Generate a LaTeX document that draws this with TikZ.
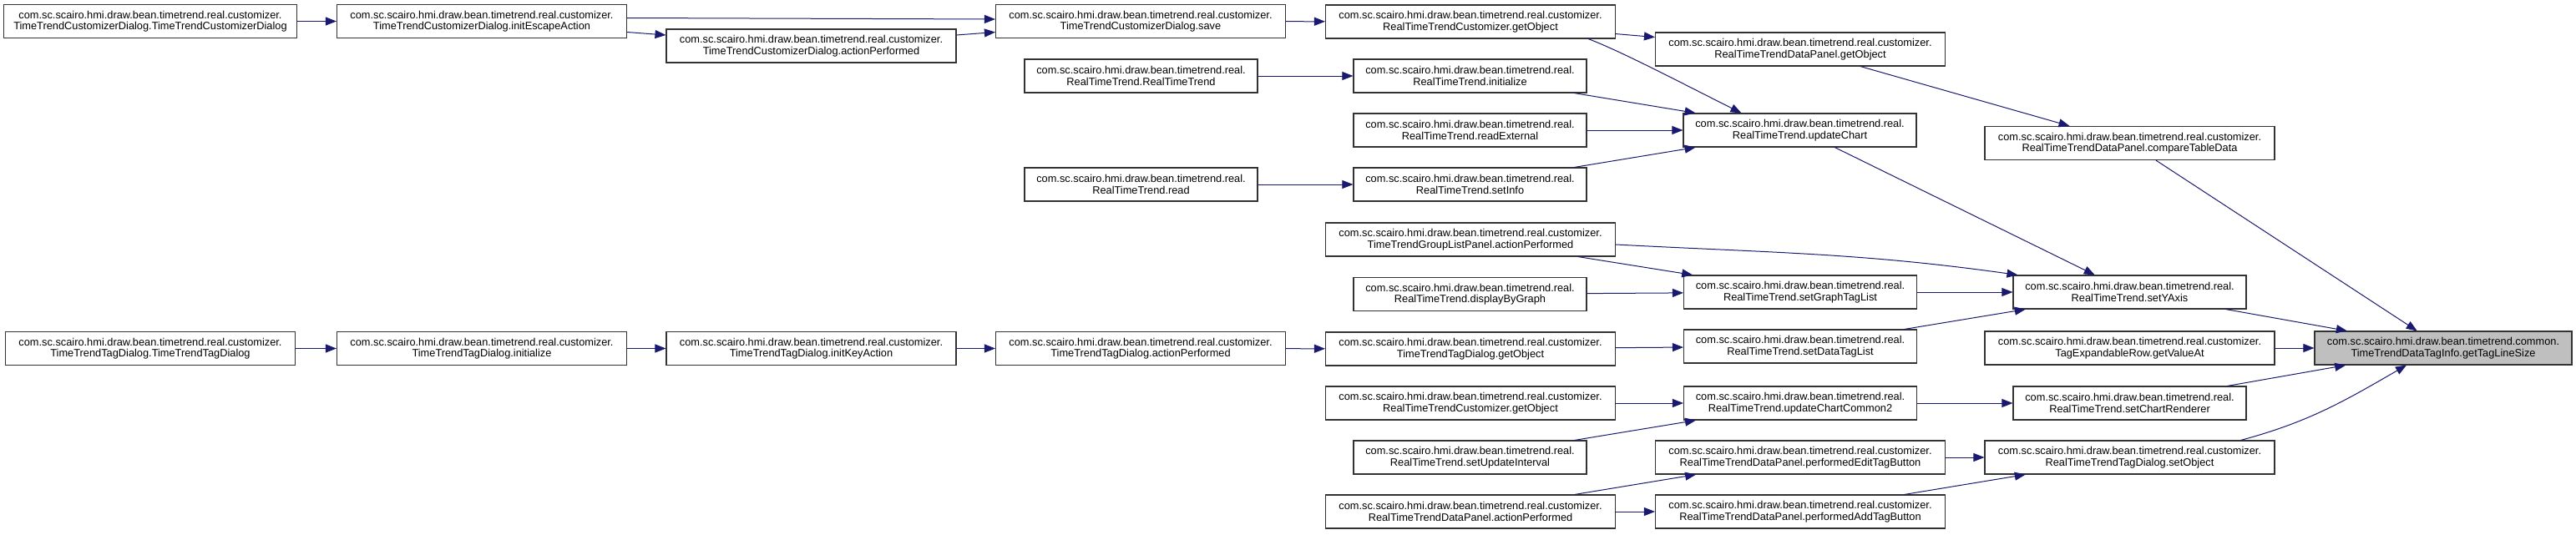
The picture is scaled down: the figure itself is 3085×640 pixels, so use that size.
\documentclass[tikz,border=0pt]{standalone}
\usepackage{fontspec}
\setmainfont{Liberation Sans}
\usetikzlibrary{arrows.meta}
\definecolor{edgeblue}{HTML}{191970}
\definecolor{hilite}{HTML}{BFBFBF}
\tikzset{
  fn/.style={draw=black!80, line width=1.1pt, fill=white, align=center, inner sep=2pt,
    minimum height=40pt, font=\fontsize{12.8pt}{13.5pt}\selectfont},
  wide/.style={fn, minimum width=347pt},
  narrow/.style={fn, minimum width=279pt},
  edge/.style={draw=edgeblue, line width=1pt, -{Triangle[length=13pt,width=10pt]}}
}
\begin{document}
\begin{tikzpicture}[x=1pt, y=-1pt]
      \useasboundingbox (0,0) rectangle (3085,640);
      \draw
        (2926,417) node[fn, minimum width=308pt, fill=hilite] (0){com.sc.scairo.hmi.draw.bean.timetrend.common.\\TimeTrendDataTagInfo.getTagLineSize}
        (2550.5,171.5) node[wide] (1){com.sc.scairo.hmi.draw.bean.timetrend.real.customizer.\\RealTimeTrendDataPanel.compareTableData}
        (2156,59) node[wide] (2){com.sc.scairo.hmi.draw.bean.timetrend.real.customizer.\\RealTimeTrendDataPanel.getObject}
        (1761,26) node[wide] (3){com.sc.scairo.hmi.draw.bean.timetrend.real.customizer.\\RealTimeTrendCustomizer.getObject}
        (1366,25.5) node[wide] (4){com.sc.scairo.hmi.draw.bean.timetrend.real.customizer.\\TimeTrendCustomizerDialog.save}
        (577,25.5) node[wide] (5){com.sc.scairo.hmi.draw.bean.timetrend.real.customizer.\\TimeTrendCustomizerDialog.initEscapeAction}
        (180,25.5) node[wide, minimum width=351pt] (6){com.sc.scairo.hmi.draw.bean.timetrend.real.customizer.\\TimeTrendCustomizerDialog.TimeTrendCustomizerDialog}
        (971.5,55) node[wide] (7){com.sc.scairo.hmi.draw.bean.timetrend.real.customizer.\\TimeTrendCustomizerDialog.actionPerformed}
        (2550.5,350) node[narrow] (8){com.sc.scairo.hmi.draw.bean.timetrend.real.\\RealTimeTrend.setYAxis}
        (1761,287) node[wide] (9){com.sc.scairo.hmi.draw.bean.timetrend.real.customizer.\\TimeTrendGroupListPanel.actionPerformed}
        (2156,350) node[narrow] (10){com.sc.scairo.hmi.draw.bean.timetrend.real.\\RealTimeTrend.setGraphTagList}
        (1760.5,352.5) node[narrow] (11){com.sc.scairo.hmi.draw.bean.timetrend.real.\\RealTimeTrend.displayByGraph}
        (2156,415) node[narrow] (12){com.sc.scairo.hmi.draw.bean.timetrend.real.\\RealTimeTrend.setDataTagList}
        (1761,418) node[wide] (13){com.sc.scairo.hmi.draw.bean.timetrend.real.customizer.\\TimeTrendTagDialog.getObject}
        (1366,417.5) node[wide] (14){com.sc.scairo.hmi.draw.bean.timetrend.real.customizer.\\TimeTrendTagDialog.actionPerformed}
        (971.5,417.5) node[wide] (15){com.sc.scairo.hmi.draw.bean.timetrend.real.customizer.\\TimeTrendTagDialog.initKeyAction}
        (577,417.5) node[wide] (16){com.sc.scairo.hmi.draw.bean.timetrend.real.customizer.\\TimeTrendTagDialog.initialize}
        (180,417.5) node[wide] (17){com.sc.scairo.hmi.draw.bean.timetrend.real.customizer.\\TimeTrendTagDialog.TimeTrendTagDialog}
        (2155.5,156) node[narrow] (18){com.sc.scairo.hmi.draw.bean.timetrend.real.\\RealTimeTrend.updateChart}
        (1760.5,91) node[narrow] (19){com.sc.scairo.hmi.draw.bean.timetrend.real.\\RealTimeTrend.initialize}
        (1366.5,91) node[narrow] (20){com.sc.scairo.hmi.draw.bean.timetrend.real.\\RealTimeTrend.RealTimeTrend}
        (1760.5,156) node[narrow] (21){com.sc.scairo.hmi.draw.bean.timetrend.real.\\RealTimeTrend.readExternal}
        (1760.5,221) node[narrow] (22){com.sc.scairo.hmi.draw.bean.timetrend.real.\\RealTimeTrend.setInfo}
        (1366.5,221) node[narrow] (23){com.sc.scairo.hmi.draw.bean.timetrend.real.\\RealTimeTrend.read}
        (2550.5,417) node[wide] (24){com.sc.scairo.hmi.draw.bean.timetrend.real.customizer.\\TagExpandableRow.getValueAt}
        (2550.5,483) node[narrow] (25){com.sc.scairo.hmi.draw.bean.timetrend.real.\\RealTimeTrend.setChartRenderer}
        (2156,483) node[narrow] (26){com.sc.scairo.hmi.draw.bean.timetrend.real.\\RealTimeTrend.updateChartCommon2}
        (1761,483) node[wide] (27){com.sc.scairo.hmi.draw.bean.timetrend.real.customizer.\\RealTimeTrendCustomizer.getObject}
        (1760.5,548) node[narrow] (28){com.sc.scairo.hmi.draw.bean.timetrend.real.\\RealTimeTrend.setUpdateInterval}
        (2550.5,548) node[wide] (29){com.sc.scairo.hmi.draw.bean.timetrend.real.customizer.\\RealTimeTrendTagDialog.setObject}
        (2156,548) node[wide] (30){com.sc.scairo.hmi.draw.bean.timetrend.real.customizer.\\RealTimeTrendDataPanel.performedEditTagButton}
        (1761,613) node[wide] (31){com.sc.scairo.hmi.draw.bean.timetrend.real.customizer.\\RealTimeTrendDataPanel.actionPerformed}
        (2156,613) node[wide] (32){com.sc.scairo.hmi.draw.bean.timetrend.real.customizer.\\RealTimeTrendDataPanel.performedAddTagButton};
      \begin{scope}[edge]
        \draw (6) to (5);
        \draw ([yshift=4pt]5.east) to ([yshift=2.5pt]4.west);
        \draw (5) to (7);
        \draw (7) to (4);
        \draw (4) to (3);
        \draw (3) to (2);
        \draw ([xshift=-33pt]3.south east) .. controls +(40,15) and +(-60,-30) .. ([xshift=-70pt]18.north);
        \draw (20) to (19);
        \draw (19) to (18);
        \draw (21) to (18);
        \draw (23) to (22);
        \draw (22) to (18);
        \draw (2) to (1);
        \draw (1) to (0);
        \draw (18) to (8);
        \draw ([yshift=-6pt]9.east) to[out=-3,in=172] ([xshift=6pt]8.north west);
        \draw (9) to (10);
        \draw (11) to (10);
        \draw (10) to (8);
        \draw (12) to (8);
        \draw (8) to (0);
        \draw (24) to (0);
        \draw (17) to (16);
        \draw (16) to (15);
        \draw (15) to (14);
        \draw (14) to (13);
        \draw (13) to (12);
        \draw (27) to (26);
        \draw (28) to (26);
        \draw (26) to (25);
        \draw (25) to (0);
        \draw (31) to (30);
        \draw (31) to (32);
        \draw (30) to (29);
        \draw (32) to (29);
        \draw ([xshift=133pt]29.north) to[out=15,in=-150] ([xshift=-44pt]0.south);
      \end{scope}
\end{tikzpicture}
\end{document}
